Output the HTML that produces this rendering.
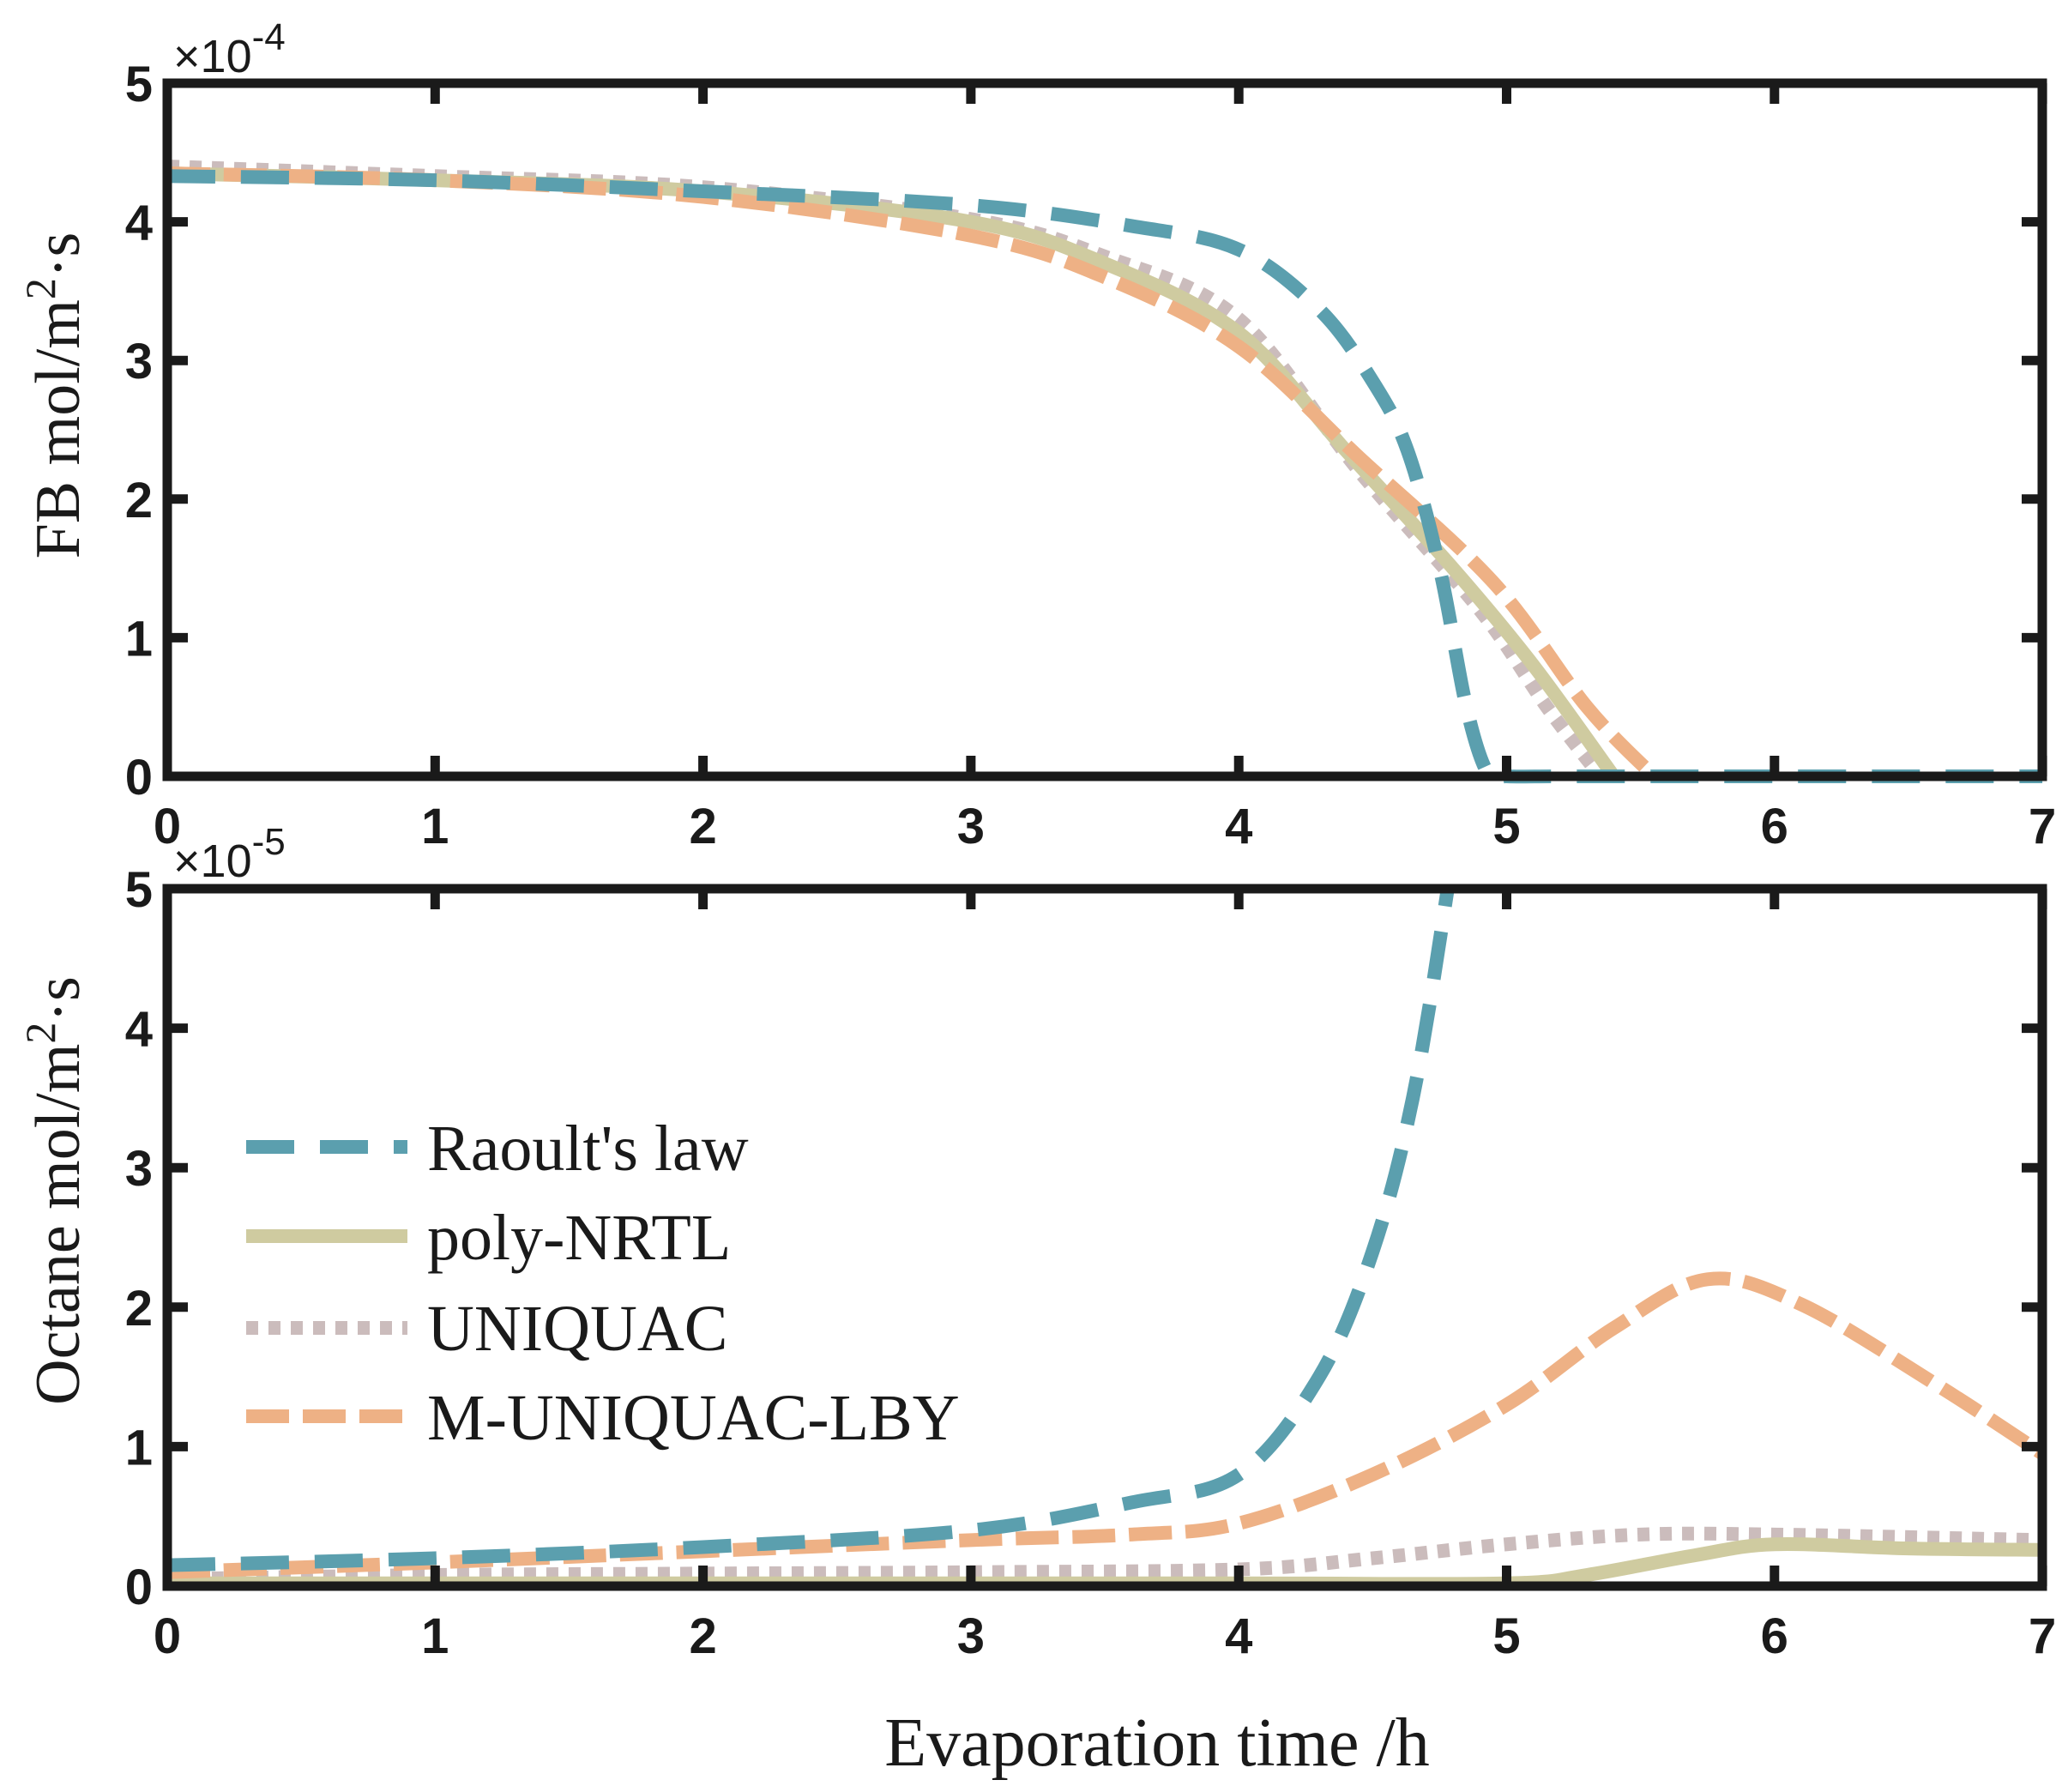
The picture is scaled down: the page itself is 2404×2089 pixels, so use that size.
<!DOCTYPE html>
<html><head><meta charset="utf-8"><style>
html,body{margin:0;padding:0;background:#fff}
svg{display:block}
.tk{font-family:"Liberation Sans",Arial,sans-serif;font-weight:bold;font-size:58px;fill:#1a1a1a}
.ex{font-family:"Liberation Sans",Arial,sans-serif;font-size:54px;fill:#1a1a1a}
.sr{font-family:"Liberation Serif",serif;fill:#1a1a1a}
</style></head><body>
<svg id="s" width="2404" height="2089" viewBox="0 0 2404 2089" xmlns="http://www.w3.org/2000/svg">
<g id="curves"></g>
<g id="axes" fill="none" stroke="#1a1a1a" stroke-width="11">
<rect x="195" y="97" width="2186" height="808"/>
<rect x="195" y="1036" width="2186" height="813"/>
</g>
<g id="ticks" stroke="#1a1a1a" stroke-width="11"></g>
<g id="labels"></g>
<text class="ex" x="202" y="84">×10<tspan dy="-26" font-size="44">-4</tspan></text>
<text class="ex" x="202" y="1022">×10<tspan dy="-26" font-size="44">-5</tspan></text>
<text class="sr" font-size="74" transform="translate(92,461) rotate(-90)" text-anchor="middle">FB mol/m<tspan dy="-28" font-size="50">2</tspan><tspan dy="28">·s</tspan></text>
<text class="sr" font-size="74" transform="translate(92,1388) rotate(-90)" text-anchor="middle">Octane mol/m<tspan dy="-28" font-size="50">2</tspan><tspan dy="28">·s</tspan></text>
<text class="sr" font-size="80" x="1349" y="2058" text-anchor="middle">Evaporation time /h</text>
<g stroke-width="16" fill="none">
<line x1="287" y1="1337" x2="475" y2="1337" stroke="#5b9fae" stroke-dasharray="56,30"/>
<line x1="287" y1="1441" x2="475" y2="1441" stroke="#cfcba0"/>
<line x1="287" y1="1548" x2="475" y2="1548" stroke="#cbbcbc" stroke-dasharray="14,12"/>
<line x1="287" y1="1651" x2="475" y2="1651" stroke="#eeb185" stroke-dasharray="50,16"/>
</g>
<g class="sr" font-size="76">
<text x="498" y="1364">Raoult's law</text>
<text x="498" y="1468">poly-NRTL</text>
<text x="498" y="1574">UNIQUAC</text>
<text x="498" y="1678">M-UNIQUAC-LBY</text>
</g>
</svg>
<script>
var NS="http://www.w3.org/2000/svg";
function X(t){return 195+t*312.3;}
function Y1(v){return 905-v*161.6;}
function Y2(v){return 1849-v*162.6;}
function path(pts,Y){var p=pts.map(function(a){return [X(a[0]),Y(a[1])];});
var d="M"+p[0][0]+","+p[0][1];
for(var i=0;i<p.length-1;i++){var p0=p[i-1]||p[i],p1=p[i],p2=p[i+1],p3=p[i+2]||p2;
d+=" C"+(p1[0]+(p2[0]-p0[0])/6)+","+(p1[1]+(p2[1]-p0[1])/6)+" "+(p2[0]-(p3[0]-p1[0])/6)+","+(p2[1]-(p3[1]-p1[1])/6)+" "+p2[0]+","+p2[1];}
return d;}
function add(pts,Y,col,dash,clip){var e=document.createElementNS(NS,"path");e.setAttribute("d",path(pts,Y));
e.setAttribute("stroke",col);e.setAttribute("stroke-width","16");e.setAttribute("fill","none");
if(dash)e.setAttribute("stroke-dasharray",dash);if(clip)e.setAttribute("clip-path",clip);
document.getElementById("curves").appendChild(e);}
var defs=document.createElementNS(NS,"defs");defs.innerHTML='<clipPath id="c2"><rect x="195" y="1036" width="2186" height="813"/></clipPath>';
document.getElementById("s").insertBefore(defs,document.getElementById("s").firstChild);
var B="#5b9fae",G="#cfcba0",U="#cbbcbc",O="#eeb185";
// top
add([[0,4.4],[1,4.33],[2,4.25],[3,4.02],[3.5,3.75],[4,3.3],[4.45,2.2],[4.9,1.2],[5.15,0.5],[5.35,0]],Y1,U,"14,12");
add([[0,4.35],[1,4.3],[2,4.22],[3,4.0],[3.5,3.7],[4,3.2],[4.4,2.35],[4.8,1.5],[5.1,0.8],[5.4,0]],Y1,G,null);
add([[0,4.35],[1,4.3],[2,4.18],[3,3.9],[3.5,3.6],[4,3.1],[4.45,2.3],[4.95,1.4],[5.3,0.5],[5.55,0]],Y1,O,"50,16");
add([[0,4.33],[1,4.3],[2,4.22],[3,4.12],[3.6,3.97],[4,3.8],[4.3,3.37],[4.5,2.85],[4.63,2.35],[4.75,1.5],[4.85,0.5],[4.93,0.02],[5.0,0],[5.2,0],[5.6,0],[7,0]],Y1,B,"56,30");
// bottom
add([[0,0.05],[1,0.08],[2,0.09],[3,0.1],[4,0.12],[4.5,0.2],[5,0.3],[5.5,0.37],[6,0.37],[7,0.33]],Y2,U,"14,12");
add([[0,0.02],[2,0.02],[4,0.02],[5,0.02],[5.3,0.08],[5.7,0.22],[6,0.3],[6.5,0.27],[7,0.26]],Y2,G,null);
add([[0,0.1],[1,0.17],[2,0.25],[3,0.33],[3.6,0.37],[4,0.45],[4.5,0.8],[5,1.3],[5.4,1.85],[5.75,2.2],[6.1,2.02],[6.6,1.45],[7,0.95]],Y2,O,"50,16");
add([[0,0.15],[1,0.2],[2,0.28],[3,0.4],[3.6,0.6],[4,0.8],[4.3,1.5],[4.5,2.4],[4.65,3.5],[4.78,5],[4.85,6]],Y2,B,"56,30","url(#c2)");
// ticks and labels
var tk=document.getElementById("ticks"),lb=document.getElementById("labels");
function L(x1,y1,x2,y2){var e=document.createElementNS(NS,"line");e.setAttribute("x1",x1);e.setAttribute("y1",y1);e.setAttribute("x2",x2);e.setAttribute("y2",y2);tk.appendChild(e);}
function T(x,y,s,a){var e=document.createElementNS(NS,"text");e.setAttribute("class","tk");e.setAttribute("x",x);e.setAttribute("y",y);e.setAttribute("text-anchor",a);e.textContent=s;lb.appendChild(e);}
[[97,905,Y1],[1036,1849,Y2]].forEach(function(a,k){
for(var i=0;i<=7;i++){var x=X(i);L(x,a[1],x,a[1]-24);L(x,a[0],x,a[0]+24);T(x,a[1]+78,""+i,"middle");}
for(var j=0;j<=5;j++){var y=a[2](j);L(195,y,219,y);L(2381,y,2357,y);T(178,y+21,""+j,"end");}
});
</script>
</body></html>
